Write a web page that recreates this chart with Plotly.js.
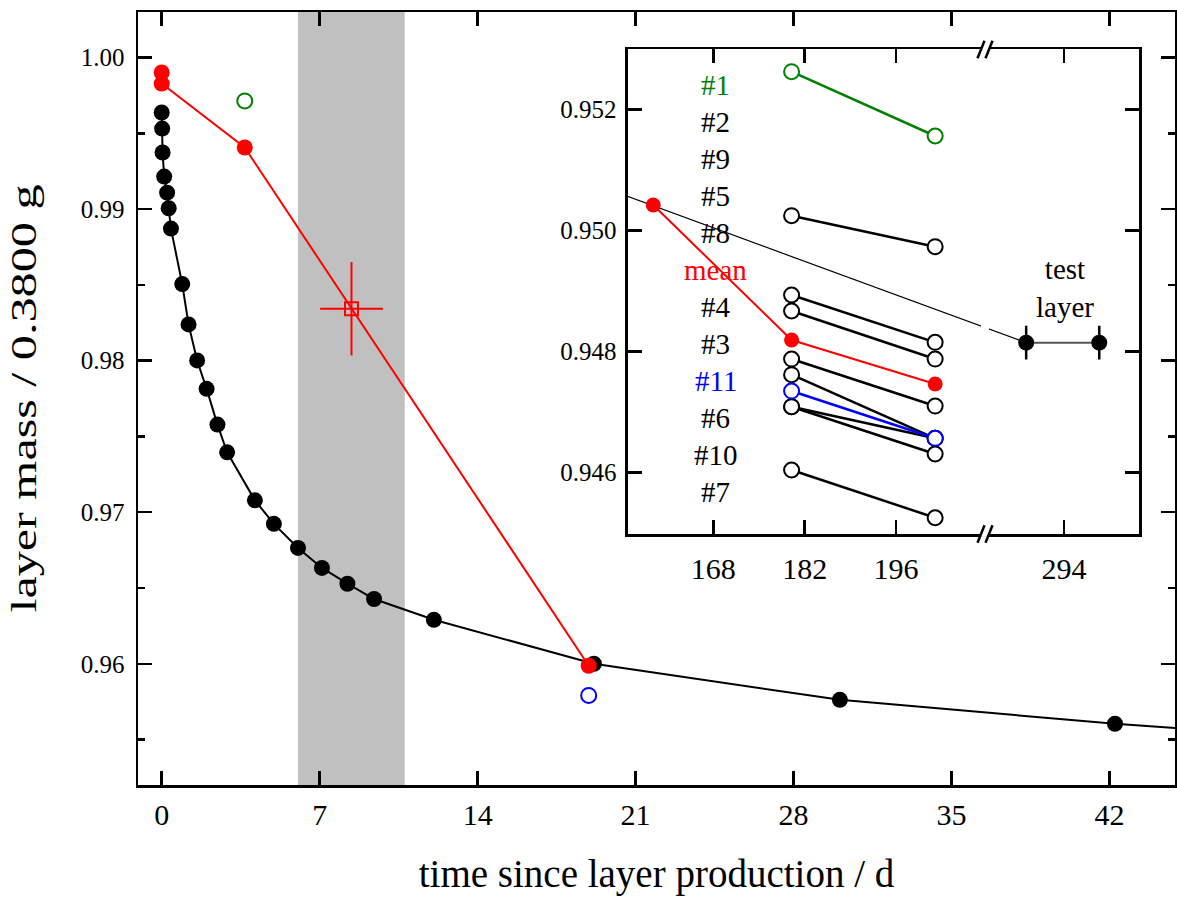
<!DOCTYPE html>
<html>
<head>
<meta charset="utf-8">
<script src="https://cdn.plot.ly/plotly-3.0.1.min.js"></script>
<style>
  html, body { margin: 0; padding: 0; background: #fff; }
  #chart { width: 1177px; height: 897px; }
</style>
</head>
<body>
<div id="chart"></div>
<script>
// ---------------- data (main plot) ----------------
// test layer: time since production (d) and normalised mass
const testDays = [0, 0.02, 0.04, 0.11, 0.24, 0.31, 0.41, 0.91, 1.19, 1.57, 1.99, 2.47, 2.90, 4.13, 4.97, 6.04, 7.10, 8.23, 9.41, 12.06, 19.15, 30.05, 42.24, 58, 288.2, 299.4];
const testMass = [0.99637, 0.99531, 0.99373, 0.99214, 0.99108, 0.99005, 0.98871, 0.98505, 0.98239, 0.98001, 0.97814, 0.97578, 0.97395, 0.97078, 0.96923, 0.96764, 0.96632, 0.96528, 0.96427, 0.96290, 0.96000, 0.95762, 0.95604, 0.9544, 0.94815, 0.94815];
const testErr  = [0.00028, 0.00028]; // error of the two late test-layer weighings

// mean of samples
const meanDays = [0, 0, 3.68, 18.92];
const meanMass = [0.99901, 0.99828, 0.99406, 0.95987];

// single samples in the main plot
const sample1Day = [3.68];   const sample1Mass = [0.99713];   // #1 (green)
const sample11Day = [18.92]; const sample11Mass = [0.95791];  // #11 (blue)

// interpolated mean in shaded interval
const intDay = [8.41]; const intMass = [0.98342];
const intDayErr = [1.39]; const intMassErr = [0.00308];
const bandStart = 6.04, bandEnd = 10.77;

// ---------------- data (inset) ----------------
const insetDays = [180, 202];
const sampleNames = ['#1', '#2', '#9', '#5', '#4', '#3', '#11', '#6', '#10', '#7'];
const sampleColors = ['green', 'black', 'black', 'black', 'black', 'black', 'blue', 'black', 'black', 'black'];
const massDay180 = [0.952628, 0.950248, 0.948937, 0.948673, 0.947879, 0.947620, 0.947350, 0.947091, 0.947091, 0.946045];
const massDay202 = [0.951565, 0.949736, 0.948155, 0.947879, 0.947102, 0.946569, 0.946569, 0.946569, 0.946309, 0.945256];

const insetMeanDays = [158.8, 180, 202];
const insetMeanMass = [0.950425, 0.948193, 0.947466];

const labelTexts  = ['#1', '#2', '#9', '#5', '#8', 'mean', '#4', '#3', '#11', '#6', '#10', '#7'];
const labelColors = ['green', 'black', 'black', 'black', 'black', 'red', 'black', 'black', 'blue', 'black', 'black', 'black'];

const insetXTicks = [168, 182, 196, 294];
const insetYTicks = [0.946, 0.948, 0.950, 0.952];

// ---------------- helpers ----------------
const FONT = 'Liberation Serif, "Times New Roman", serif';
const BREAK_AT = 209.64;     // inset axis break position (d)
const BREAK_SHIFT = 72.25;   // days removed by the break
const bx = d => (d > BREAK_AT ? d - BREAK_SHIFT : d);

const traces = [];

// main: test layer
traces.push({
  x: testDays, y: testMass, type: 'scatter', mode: 'lines+markers',
  line: { color: 'black', width: 2 },
  marker: { color: 'black', size: 16 },
  xaxis: 'x', yaxis: 'y'
});
// main: mean
traces.push({
  x: meanDays, y: meanMass, type: 'scatter', mode: 'lines+markers',
  line: { color: 'red', width: 2 },
  marker: { color: 'red', size: 16 },
  xaxis: 'x', yaxis: 'y'
});
// main: interpolated mean with error bars
traces.push({
  x: intDay, y: intMass, type: 'scatter', mode: 'markers',
  marker: { symbol: 'square-open', color: 'red', size: 13, line: { width: 2, color: 'red' } },
  error_x: { type: 'data', array: intDayErr, color: 'red', thickness: 2, width: 0 },
  error_y: { type: 'data', array: intMassErr, color: 'red', thickness: 2, width: 0 },
  xaxis: 'x', yaxis: 'y'
});
// main: single samples
traces.push({
  x: sample1Day, y: sample1Mass, type: 'scatter', mode: 'markers',
  marker: { symbol: 'circle-open', color: 'green', size: 15, line: { width: 2, color: 'green' } },
  xaxis: 'x', yaxis: 'y'
});
traces.push({
  x: sample11Day, y: sample11Mass, type: 'scatter', mode: 'markers',
  marker: { symbol: 'circle-open', color: 'blue', size: 15, line: { width: 2, color: 'blue' } },
  xaxis: 'x', yaxis: 'y'
});

// inset: thin extrapolation line of the test layer (last main point -> first late weighing)
const nT = testDays.length;
traces.push({
  x: [testDays[nT - 3], testDays[nT - 2]].map(bx), y: [testMass[nT - 3], testMass[nT - 2]],
  type: 'scatter', mode: 'lines', line: { color: 'black', width: 1.2 },
  xaxis: 'x2', yaxis: 'y2'
});
// inset: late test layer weighings
traces.push({
  x: testDays.slice(nT - 2).map(bx), y: testMass.slice(nT - 2),
  type: 'scatter', mode: 'lines+markers',
  line: { color: '#555555', width: 2 },
  marker: { color: 'black', size: 16 },
  error_y: { type: 'data', array: testErr, color: 'black', thickness: 2.5, width: 0 },
  xaxis: 'x2', yaxis: 'y2'
});
// inset: samples (black first, then coloured on top)
const order = sampleNames.map((_, i) => i).sort((a, b) => (sampleColors[a] === 'black' ? 0 : 1) - (sampleColors[b] === 'black' ? 0 : 1));
order.forEach(i => {
  traces.push({
    x: insetDays.map(bx), y: [massDay180[i], massDay202[i]], name: sampleNames[i],
    type: 'scatter', mode: 'lines+markers',
    line: { color: sampleColors[i], width: 2.5 },
    marker: { symbol: 'circle', color: 'white', size: 15, line: { width: 2, color: sampleColors[i] } },
    xaxis: 'x2', yaxis: 'y2'
  });
});
// inset: mean
traces.push({
  x: insetMeanDays.map(bx), y: insetMeanMass, type: 'scatter', mode: 'lines+markers',
  line: { color: 'red', width: 2 },
  marker: { color: 'red', size: 15 },
  xaxis: 'x2', yaxis: 'y2'
});

// ---------------- layout ----------------
const axisCommon = {
  showline: true, linecolor: 'black', linewidth: 2.5,
  ticks: 'inside', tickcolor: 'black', tickwidth: 2.5, ticklen: 14,
  mirror: 'ticks', showgrid: false, zeroline: false,
  tickfont: { family: FONT, size: 25, color: 'black' }
};
const xTickFont = { family: FONT, size: 30, color: 'black' };

// inset label annotations (evenly stacked)
const labTop = 0.952408, labStep = 0.000611;
const annotations = labelTexts.map((t, i) => ({
  x: 168.4, y: labTop - i * labStep, xref: 'x2', yref: 'y2',
  text: t, showarrow: false, xanchor: 'center', yanchor: 'middle',
  font: { family: FONT, size: 29, color: labelColors[i] }
}));
annotations.push({
  x: 221.9, y: 0.94905, xref: 'x2', yref: 'y2',
  text: 'test<br>layer', showarrow: false, xanchor: 'center', yanchor: 'middle',
  font: { family: FONT, size: 29, color: 'black' }
});

// shapes: shaded interval and break marks on inset x axis
const shapes = [
  { type: 'rect', xref: 'x', yref: 'paper', x0: bandStart, x1: bandEnd, y0: 0, y1: 1,
    fillcolor: '#c0c0c0', line: { width: 0 }, layer: 'below' }
];
const breakPx = 1 / 6.525; // days per px in inset
[0, 1].forEach(yd => {
  shapes.push({ type: 'rect', xref: 'x2', yref: 'y2 domain',
    x0: BREAK_AT - 4 * breakPx, x1: BREAK_AT + 4 * breakPx, y0: yd - 0.006, y1: yd + 0.006,
    fillcolor: 'white', line: { width: 0 }, layer: 'above' });
  [-4, 4].forEach(off => {
    const xc = BREAK_AT + off * breakPx;
    shapes.push({ type: 'line', xref: 'x2', yref: 'y2 domain',
      x0: xc - 3.5 * breakPx, x1: xc + 3.5 * breakPx, y0: yd - 0.018, y1: yd + 0.018,
      line: { color: 'black', width: 2.5 }, layer: 'above' });
  });
});
// gap in thin extrapolation line at the break
shapes.push({ type: 'rect', xref: 'x2', yref: 'y2',
  x0: BREAK_AT - 4 * breakPx, x1: BREAK_AT + 4 * breakPx, y0: 0.94822, y1: 0.94858,
  fillcolor: 'white', line: { width: 0 }, layer: 'above' });

const layout = {
  width: 1177, height: 897,
  margin: { l: 138, r: 2, t: 12, b: 112 },
  paper_bgcolor: 'white', plot_bgcolor: 'white',
  showlegend: false,
  font: { family: FONT, color: 'black' },
  xaxis: Object.assign({}, axisCommon, {
    range: [-1.05, 44.9], tick0: 0, dtick: 7,
    tickfont: xTickFont, ticklabelstandoff: 1,
    title: { text: 'time since layer production / d', font: { family: FONT, size: 39, color: 'black' }, standoff: 30 }
  }),
  yaxis: Object.assign({}, axisCommon, {
    range: [0.952, 1.003], tick0: 0.96, dtick: 0.01, tickformat: '.2f',
    minor: { dtick: 0.005, ticks: 'inside', ticklen: 7, tickwidth: 2.5, tickcolor: 'black' },
    ticklabelstandoff: 6,
    title: { text: 'layer mass / 0.3800 g', font: { family: FONT, size: 35, color: 'black' }, standoff: 34 }
  }),
  xaxis2: Object.assign({}, axisCommon, {
    domain: [0.4725, 0.9653], anchor: 'y2',
    range: [154.93, 233.24],
    tickvals: insetXTicks.map(bx), ticktext: insetXTicks.map(String),
    tickfont: xTickFont, ticklabelstandoff: 6
  }),
  yaxis2: Object.assign({}, axisCommon, {
    domain: [0.3247, 0.9515], anchor: 'x2',
    range: [0.944987, 0.952995],
    tickvals: insetYTicks, ticktext: insetYTicks.map(v => v.toFixed(3)),
    ticklabelstandoff: 4
  }),
  annotations: annotations,
  shapes: shapes
};

Plotly.newPlot('chart', traces, layout, { staticPlot: true, displayModeBar: false }).then(() => {
  // the reference's y title is drawn horizontally stretched
  const yt = document.querySelector('#chart .ytitle');
  if (yt) {
    yt.setAttribute('textLength', '428');
    yt.setAttribute('lengthAdjust', 'spacingAndGlyphs');
  }
});
</script>
</body>
</html>
